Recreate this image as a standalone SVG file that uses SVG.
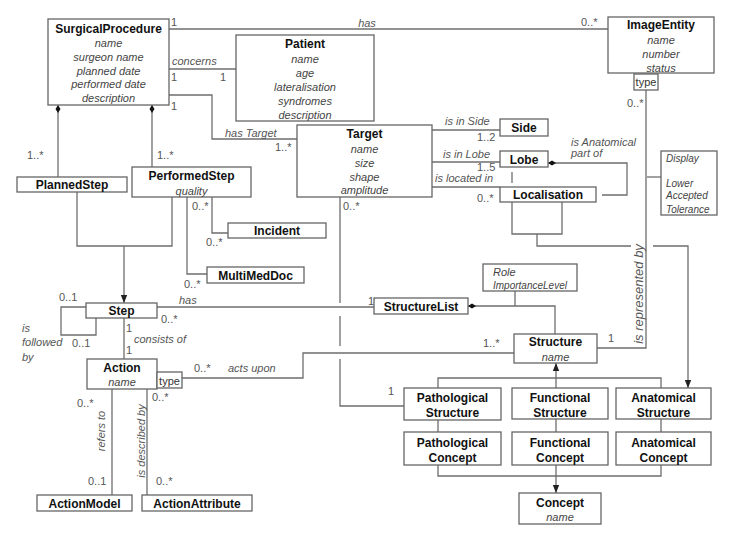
<svg xmlns="http://www.w3.org/2000/svg" width="734" height="535" viewBox="0 0 734 535">
<defs>
<marker id="arr" viewBox="0 0 8 8" refX="8" refY="4" markerWidth="8" markerHeight="8" markerUnits="userSpaceOnUse" orient="auto">
<path d="M0,0.8 L8,4 L0,7.2 z" fill="#222"/>
</marker>
<marker id="dia" viewBox="0 0 8 6" refX="0" refY="3" markerWidth="8" markerHeight="6" markerUnits="userSpaceOnUse" orient="auto">
<path d="M0,3 L4,0.5 L8,3 L4,5.5 z" fill="#111"/>
</marker>
<style>
rect.box{fill:#fff;stroke:#666;stroke-width:1.3}
.t{font-family:"Liberation Sans",Arial,sans-serif;font-size:12px;font-weight:bold;fill:#111;text-anchor:middle}
.a{font-family:"Liberation Sans",Arial,sans-serif;font-size:11px;font-style:italic;fill:#444;text-anchor:middle}
.al{font-family:"Liberation Sans",Arial,sans-serif;font-size:10px;font-style:italic;fill:#444}
.m{font-family:"Liberation Sans",Arial,sans-serif;font-size:11px;fill:#555}
.l{font-family:"Liberation Sans",Arial,sans-serif;font-size:11px;font-style:italic;fill:#555}
.lr{font-family:"Liberation Sans",Arial,sans-serif;font-size:11px;font-style:italic;fill:#555;text-anchor:middle}
.tp{font-family:"Liberation Sans",Arial,sans-serif;font-size:11px;fill:#333;text-anchor:middle}
#connectors path{fill:none;stroke:#6e6e6e;stroke-width:1.3}
</style>
</defs>
<rect width="734" height="535" fill="#fff"/>

<g id="connectors">
<path d="M169,29 H608"/>
<path d="M169,69 H236"/>
<path d="M169,95 H212 V139 H297"/>
<path d="M432,130 H500"/>
<path d="M432,162 H500"/>
<path d="M432,187 H500"/>
<path d="M548,163 H627 V195 H602" marker-start="url(#dia)"/>
<path d="M512,172 V183"/>
<path d="M512,202 V234 H562 V202"/>
<path d="M537,234 V246 H631"/>
<path d="M653,246 H688 V388" marker-end="url(#arr)"/>
<path d="M646,90 V348 H597"/>
<path d="M647,177 H661"/>
<path d="M515,291 V306"/>
<path d="M468,306 H555 V334" marker-start="url(#dia)"/>
<path d="M157,307 H374"/>
<path d="M340,197 V303 M340,316 V346 M340,359 V406 H404"/>
<path d="M182,378 H303 V353 H514"/>
<path d="M438,388 V378 H661 V388"/>
<path d="M556,388 V363" marker-end="url(#arr)"/>
<path d="M438,420 V432 M556,419 V432 M661,419 V432"/>
<path d="M438,465 V476 H661 V465"/>
<path d="M556,465 V493" marker-end="url(#arr)"/>
<path d="M58,105 V177" marker-start="url(#dia)"/>
<path d="M152,105 V167" marker-start="url(#dia)"/>
<path d="M77,192 V246 H172 V197"/>
<path d="M124,246 V303" marker-end="url(#arr)"/>
<path d="M86,307 H61 V335 H96 V318"/>
<path d="M124,318 V359"/>
<path d="M112,389 V495"/>
<path d="M147,389 V495"/>
<path d="M212,197 V233 H228"/>
<path d="M187,197 V274 H207"/>
</g>

<g id="labels">
<text class="m" x="171" y="26">1</text>
<text class="lr" x="367" y="27">has</text>
<text class="m" x="581" y="26">0..*</text>
<text class="l" x="172" y="65">concerns</text>
<text class="m" x="171" y="81">1</text>
<text class="m" x="220" y="81">1</text>
<text class="m" x="171" y="110">1</text>
<text class="l" x="225" y="137">has Target</text>
<text class="m" x="275" y="151">1..*</text>
<text class="l" x="445" y="125">is in Side</text>
<text class="m" x="477" y="141">1..2</text>
<text class="l" x="443" y="158">is in Lobe</text>
<text class="m" x="477" y="171">1..5</text>
<text class="l" x="435" y="182">is located in</text>
<text class="m" x="477" y="202">0..*</text>
<text class="m" x="343" y="210">0..*</text>
<text class="l" x="571" y="146">is Anatomical</text>
<text class="l" x="571" y="157">part of</text>
<text class="m" x="627" y="107">0..*</text>
<text class="m" x="27" y="159">1..*</text>
<text class="m" x="157" y="159">1..*</text>
<text class="m" x="192" y="210">0..*</text>
<text class="m" x="206" y="246">0..*</text>
<text class="m" x="184" y="288">0..*</text>
<text class="m" x="59" y="301">0..1</text>
<text class="m" x="72" y="347">0..1</text>
<text class="l" x="22" y="332">is</text>
<text class="l" x="22" y="346">followed</text>
<text class="l" x="22" y="361">by</text>
<text class="l" x="179" y="304">has</text>
<text class="m" x="161" y="323">0..*</text>
<text class="m" x="126" y="332">1</text>
<text class="m" x="126" y="354">1</text>
<text class="l" x="134" y="343">consists of</text>
<text class="m" x="368" y="305">1</text>
<text class="m" x="194" y="372">0..*</text>
<text class="l" x="228" y="372">acts upon</text>
<text class="m" x="483" y="347">1..*</text>
<text class="m" x="608" y="342">1</text>
<text class="m" x="388" y="395">1</text>
<text class="m" x="77" y="407">0..*</text>
<text class="m" x="152" y="401">0..*</text>
<text class="m" x="88" y="485">0..1</text>
<text class="m" x="156" y="485">0..*</text>
<text class="lr" transform="translate(101,431) rotate(-90)" x="0" y="4">refers to</text>
<text class="lr" transform="translate(141,441) rotate(-90)" x="0" y="4">is described by</text>
<text class="lr" transform="translate(638,294) rotate(-90)" x="0" y="4.5" style="font-size:13px">is represented by</text>
</g>

<g id="SurgicalProcedure">
<rect class="box" x="48" y="19" width="121" height="86"/>
<text class="t" x="108.5" y="32.5">SurgicalProcedure</text>
<text class="a" x="108.5" y="46.5">name</text>
<text class="a" x="108.5" y="60.5">surgeon name</text>
<text class="a" x="108.5" y="74.5">planned date</text>
<text class="a" x="108.5" y="88">performed date</text>
<text class="a" x="108.5" y="102">description</text>
</g>
<g id="Patient">
<rect class="box" x="236" y="35" width="138" height="86"/>
<text class="t" x="305" y="47.5">Patient</text>
<text class="a" x="305" y="63">name</text>
<text class="a" x="305" y="77">age</text>
<text class="a" x="305" y="91">lateralisation</text>
<text class="a" x="305" y="105">syndromes</text>
<text class="a" x="305" y="119">description</text>
</g>
<g id="ImageEntity">
<rect class="box" x="608" y="17" width="106" height="56"/>
<text class="t" x="661" y="28.5">ImageEntity</text>
<text class="a" x="661" y="43.5">name</text>
<text class="a" x="661" y="57.5">number</text>
<text class="a" x="661" y="71.5">status</text>
<rect class="box" x="634" y="74" width="24" height="16"/>
<text class="tp" x="646" y="86">type</text>
</g>
<g id="Target">
<rect class="box" x="297" y="125" width="135" height="72"/>
<text class="t" x="364.5" y="137.5">Target</text>
<text class="a" x="364.5" y="153">name</text>
<text class="a" x="364.5" y="166.5">size</text>
<text class="a" x="364.5" y="181">shape</text>
<text class="a" x="364.5" y="194">amplitude</text>
</g>
<g id="Side">
<rect class="box" x="500" y="119" width="48" height="17"/>
<text class="t" x="524" y="132">Side</text>
</g>
<g id="Lobe">
<rect class="box" x="500" y="151" width="48" height="16"/>
<text class="t" x="524" y="163.5">Lobe</text>
</g>
<g id="Localisation">
<rect class="box" x="500" y="187" width="96" height="15"/>
<text class="t" x="548" y="199">Localisation</text>
</g>
<g id="Display">
<rect class="box" x="661" y="151" width="56" height="64"/>
<text class="al" x="666" y="162">Display</text>
<text class="al" x="666" y="187">Lower</text>
<text class="al" x="666" y="199">Accepted</text>
<text class="al" x="666" y="213">Tolerance</text>
</g>
<g id="PlannedStep">
<rect class="box" x="17" y="177" width="110" height="15"/>
<text class="t" x="72" y="189">PlannedStep</text>
</g>
<g id="PerformedStep">
<rect class="box" x="132" y="167" width="119" height="30"/>
<text class="t" x="191.5" y="179.5">PerformedStep</text>
<text class="a" x="191.5" y="194.5">quality</text>
</g>
<g id="Incident">
<rect class="box" x="228" y="223" width="98" height="15"/>
<text class="t" x="277" y="235">Incident</text>
</g>
<g id="MultiMedDoc">
<rect class="box" x="207" y="267" width="97" height="16"/>
<text class="t" x="255.5" y="279.5">MultiMedDoc</text>
</g>
<g id="Step">
<rect class="box" x="86" y="303" width="71" height="15"/>
<text class="t" x="121.5" y="315">Step</text>
</g>
<g id="Action">
<rect class="box" x="87" y="359" width="70" height="30"/>
<text class="t" x="122" y="371.5">Action</text>
<text class="a" x="122" y="386">name</text>
<rect class="box" x="157" y="372" width="25" height="16"/>
<text class="tp" x="169.5" y="384.5">type</text>
</g>
<g id="ActionModel">
<rect class="box" x="37" y="495" width="95" height="16"/>
<text class="t" x="84.5" y="507.5">ActionModel</text>
</g>
<g id="ActionAttribute">
<rect class="box" x="142" y="495" width="110" height="16"/>
<text class="t" x="197" y="507.5">ActionAttribute</text>
</g>
<g id="StructureList">
<rect class="box" x="374" y="298" width="94" height="16"/>
<text class="t" x="421" y="310.5">StructureList</text>
</g>
<g id="Role">
<rect class="box" x="483" y="264" width="94" height="27"/>
<text class="al" x="493" y="276" style="font-size:11px">Role</text>
<text class="al" x="493" y="289">ImportanceLevel</text>
</g>
<g id="Structure">
<rect class="box" x="514" y="334" width="83" height="29"/>
<text class="t" x="555.5" y="346">Structure</text>
<text class="a" x="555.5" y="361">name</text>
</g>
<g id="PathologicalStructure">
<rect class="box" x="404" y="388" width="97" height="32"/>
<text class="t" x="452.5" y="401.5">Pathological</text>
<text class="t" x="452.5" y="416.5">Structure</text>
</g>
<g id="FunctionalStructure">
<rect class="box" x="512" y="388" width="96" height="31"/>
<text class="t" x="560" y="401.5">Functional</text>
<text class="t" x="560" y="416.5">Structure</text>
</g>
<g id="AnatomicalStructure">
<rect class="box" x="616" y="388" width="95" height="31"/>
<text class="t" x="663.5" y="401.5">Anatomical</text>
<text class="t" x="663.5" y="416.5">Structure</text>
</g>
<g id="PathologicalConcept">
<rect class="box" x="404" y="432" width="97" height="33"/>
<text class="t" x="452.5" y="446.5">Pathological</text>
<text class="t" x="452.5" y="461.5">Concept</text>
</g>
<g id="FunctionalConcept">
<rect class="box" x="512" y="432" width="96" height="33"/>
<text class="t" x="560" y="446.5">Functional</text>
<text class="t" x="560" y="461.5">Concept</text>
</g>
<g id="AnatomicalConcept">
<rect class="box" x="616" y="432" width="95" height="33"/>
<text class="t" x="663.5" y="446.5">Anatomical</text>
<text class="t" x="663.5" y="461.5">Concept</text>
</g>
<g id="Concept">
<rect class="box" x="519" y="493" width="82" height="31"/>
<text class="t" x="560" y="506.5">Concept</text>
<text class="a" x="560" y="521">name</text>
</g>
</svg>
